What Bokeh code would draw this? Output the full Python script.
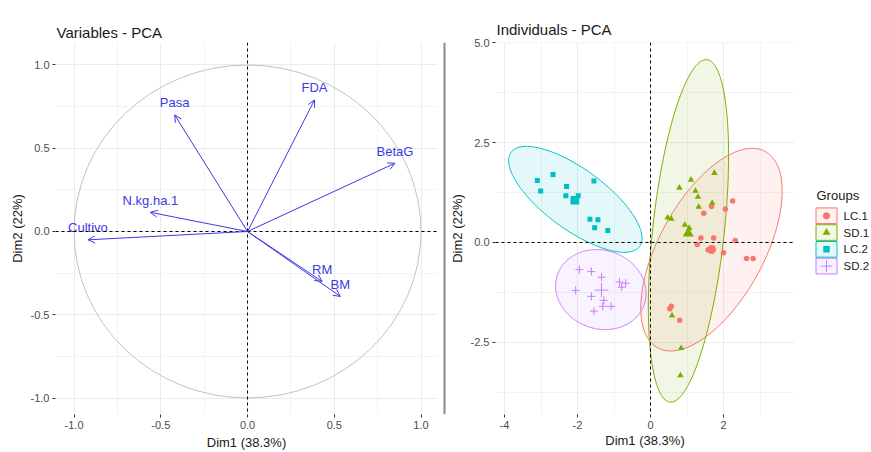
import numpy as np
from bokeh.plotting import figure
from bokeh.models import Range1d, FixedTicker, Span, Arrow, OpenHead, ColumnDataSource
from bokeh.layouts import row
from bokeh.embed import file_html
from bokeh.resources import INLINE
from bokeh.core.properties import value

FONT = "Liberation Sans"
BLUE = "#3a3ae6"

# ---------------- data: variables (correlation circle) ----------------
var_names = ["Pasa", "FDA", "BetaG", "N.kg.ha.1", "Cultivo", "RM", "BM"]
var_dim1 = [-0.42, 0.386, 0.85, -0.56, -0.92, 0.43, 0.535]
var_dim2 = [0.70, 0.79, 0.41, 0.115, -0.05, -0.30, -0.39]

var_ticks = [-1.0, -0.5, 0.0, 0.5, 1.0]
var_tick_labels = ["-1.0", "-0.5", "0.0", "0.5", "1.0"]

# ---------------- data: individuals ----------------
groups = ["LC.1", "SD.1", "LC.2", "SD.2"]
group_colors = ["#F8766D", "#7CAE00", "#00BFC4", "#C77CFF"]
group_markers = ["circle", "triangle", "square", "cross"]

lc1_x = [2.25, 2.05, 1.67, 1.46, 1.38, 1.73, 2.32, 1.28, 2.00, 2.63, 2.81, 0.57, 0.53, 0.80, 1.58, 1.70]
lc1_y = [1.04, 0.84, 0.90, 0.73, 0.11, 0.11, 0.05, -0.05, -0.26, -0.40, -0.40, -1.60, -1.66, -1.95, -0.18, -0.14]

sd1_x = [1.75, 1.11, 0.79, 1.23, 1.30, 1.69, 1.32, 0.47, 0.57, 0.94, 0.59, 0.84, 0.82, 1.06]
sd1_y = [1.74, 1.57, 1.37, 1.29, 1.14, 0.99, 0.89, 0.62, 0.59, 0.44, -1.83, -2.65, -3.33, 0.36]

lc2_x = [-3.10, -2.67, -3.01, -2.30, -2.32, -1.98, -2.12, -1.55, -1.66, -1.44, -1.53, -1.17]
lc2_y = [1.55, 1.70, 1.29, 1.40, 1.17, 1.17, 1.04, 1.54, 0.58, 0.57, 0.37, 0.30]

sd2_x = [-1.95, -1.62, -1.34, -2.05, -1.62, -1.28, -1.31, -1.08, -1.55, -0.85, -0.68, -0.79]
sd2_y = [-0.68, -0.73, -0.87, -1.20, -1.35, -1.45, -1.60, -1.60, -1.72, -0.99, -1.02, -1.12]

# confidence ellipses (center, semi-axes, angle in degrees), one per group
ell_cx = [1.67, 1.04, -2.06, -1.36]
ell_cy = [-0.18, 0.29, 1.08, -1.18]
ell_a = [2.87, 4.32, 2.12, 1.25]
ell_b = [1.40, 0.98, 0.78, 0.99]
ell_angle = [57.7, 83.2, -33.0, -12.0]

ind_xticks = [-4.0, -2.0, 0.0, 2.0]
ind_xtick_labels = ["-4", "-2", "0", "2"]
ind_yticks = [-2.5, 0.0, 2.5, 5.0]
ind_ytick_labels = ["-2.5", "0.0", "2.5", "5.0"]

group_x = [lc1_x, sd1_x, lc2_x, sd2_x]
group_y = [lc1_y, sd1_y, lc2_y, sd2_y]
point_sizes = [5.5, 6.5, 5, 8]
mean_sizes = [9, 11, 8.5, 14]


def style(p, xt, xl, yt, yl, title_offset, title_standoff):
    p.outline_line_color = None
    p.title.text_font = FONT
    p.title.text_font_size = "15px"
    p.title.text_font_style = "normal"
    p.title.text_color = "#1a1a1a"
    p.title.offset = title_offset
    p.title.standoff = title_standoff
    for axes, grids, ticks, labels in ((p.xaxis, p.xgrid, xt, xl), (p.yaxis, p.ygrid, yt, yl)):
        t = np.array(ticks)
        step = t[1] - t[0]
        minor = [float(v) for v in np.arange(t[0] - step / 2, t[-1] + step, step)]
        ticker = FixedTicker(ticks=[float(v) for v in ticks], minor_ticks=minor)
        ax = axes[0]
        ax.ticker = ticker
        ax.major_label_overrides = {float(k): s for k, s in zip(ticks, labels)}
        ax.axis_line_color = None
        ax.minor_tick_line_color = None
        ax.major_tick_line_color = "#333333"
        ax.major_tick_out = 3
        ax.major_tick_in = 0
        ax.major_label_standoff = 2
        ax.major_label_text_font = FONT
        ax.major_label_text_font_size = "11px"
        ax.major_label_text_color = "#4D4D4D"
        ax.axis_label_text_font = FONT
        ax.axis_label_text_font_size = "13px"
        ax.axis_label_text_font_style = "normal"
        ax.axis_label_text_color = "#1a1a1a"
        ax.axis_label_standoff = 3
        g = grids[0]
        g.ticker = ticker
        g.grid_line_color = "#EBEBEB"
        g.grid_line_width = 1
        g.minor_grid_line_color = "#F3F3F3"
        g.minor_grid_line_width = 1
    for dim in ("height", "width"):
        p.add_layout(Span(location=0, dimension=dim, line_color="black",
                          line_width=1, line_dash="3 3"))


H = 452

# ---------------- left: variables ----------------
pv = figure(width=442, height=H, x_range=Range1d(-1.107, 1.095), y_range=Range1d(-1.099, 1.135),
            title="Variables - PCA", output_backend="svg", toolbar_location=None,
            min_border_left=55, min_border_right=5, min_border_top=42, min_border_bottom=32,
            x_axis_label="Dim1 (38.3%)", y_axis_label="Dim2 (22%)")
style(pv, var_ticks, var_tick_labels, var_ticks, var_tick_labels, 1, 4)
pv.ellipse(x=0, y=0, width=2, height=2, fill_color=None, line_color="#C2C2C2", line_width=1)

vsrc = ColumnDataSource(dict(x0=[0.0] * len(var_names), y0=[0.0] * len(var_names),
                             x1=var_dim1, y1=var_dim2, name=var_names))
pv.add_layout(Arrow(end=OpenHead(size=7, line_color=BLUE, line_width=1),
                    x_start="x0", y_start="y0", x_end="x1", y_end="y1",
                    source=vsrc, line_color=BLUE, line_width=1))
pv.text(x="x1", y="y1", text="name", source=vsrc, text_font=value(FONT),
        text_font_size="13px", text_color=BLUE, text_align="center",
        text_baseline="middle", y_offset=-12)

# ---------------- separator ----------------
sep = figure(width=4, height=H, x_range=Range1d(0, 1), y_range=Range1d(0, 1),
             output_backend="svg", toolbar_location=None, x_axis_type=None, y_axis_type=None,
             min_border_left=0, min_border_right=0, min_border_top=13, min_border_bottom=0)
sep.outline_line_color = None
sep.grid.visible = False
sep.add_layout(Span(location=0.5, dimension="height", line_color="#8a8a8a", line_width=2))

# ---------------- right: individuals ----------------
pi = figure(width=350, height=H, x_range=Range1d(-4.247, 3.945), y_range=Range1d(-4.31, 5.01),
            title="Individuals - PCA", output_backend="svg", toolbar_location=None,
            min_border_left=49, min_border_right=2, min_border_top=42, min_border_bottom=32,
            x_axis_label="Dim1 (38.3%)", y_axis_label="Dim2 (22%)")
style(pi, ind_xticks, ind_xtick_labels, ind_yticks, ind_ytick_labels, 1, 9)
pi.xaxis.axis_label_standoff = 1


def ellipse_xy(cx, cy, a, b, ang_deg, n=240):
    t = np.linspace(0, 2 * np.pi, n)
    th = np.deg2rad(ang_deg)
    x = cx + a * np.cos(t) * np.cos(th) - b * np.sin(t) * np.sin(th)
    y = cy + a * np.cos(t) * np.sin(th) + b * np.sin(t) * np.cos(th)
    return x, y


for i in range(len(groups)):
    ex, ey = ellipse_xy(ell_cx[i], ell_cy[i], ell_a[i], ell_b[i], ell_angle[i])
    pi.patch(ex, ey, fill_color=group_colors[i], fill_alpha=0.1,
             line_color=group_colors[i], line_width=1)

for i in range(len(groups)):
    c = group_colors[i]
    m = group_markers[i]
    lw = 1 if m == "cross" else 0
    pi.scatter(group_x[i], group_y[i], marker=m, size=point_sizes[i],
               fill_color=c, line_color=c, line_width=lw)
    pi.scatter([float(np.mean(group_x[i]))], [float(np.mean(group_y[i]))], marker=m,
               size=mean_sizes[i], fill_color=c, line_color=c, line_width=lw)

# ---------------- legend ----------------
leg = figure(width=75, height=H, x_range=Range1d(796, 871), y_range=Range1d(452, 0),
             output_backend="svg", toolbar_location=None, x_axis_type=None, y_axis_type=None,
             min_border=0)
leg.outline_line_color = None
leg.grid.visible = False
key_y = [210.5 + 20.4 * i for i in range(len(groups))]
leg.text(x=[816], y=[186], text=["Groups"], text_font=value(FONT), text_font_size="13px",
         text_color="#1a1a1a", text_baseline="middle", text_align="left")
leg.rect(x=[826] * len(groups), y=key_y, width=21, height=19, fill_color=group_colors,
         fill_alpha=0.1, line_color=group_colors, line_width=1)
lsrc = ColumnDataSource(dict(x=[826] * len(groups), y=key_y, m=group_markers, c=group_colors,
                             s=[7, 8, 6.5, 12], lw=[0, 0, 0, 1]))
leg.scatter(x="x", y="y", marker="m", size="s", fill_color="c", line_color="c",
            line_width="lw", source=lsrc)
leg.text(x=[843] * len(groups), y=key_y, text=groups, text_font=value(FONT),
         text_font_size="11.5px", text_color="#222222", text_baseline="middle")

layout = row(pv, sep, pi, leg)
open("out.html", "w").write(file_html(layout, INLINE))
